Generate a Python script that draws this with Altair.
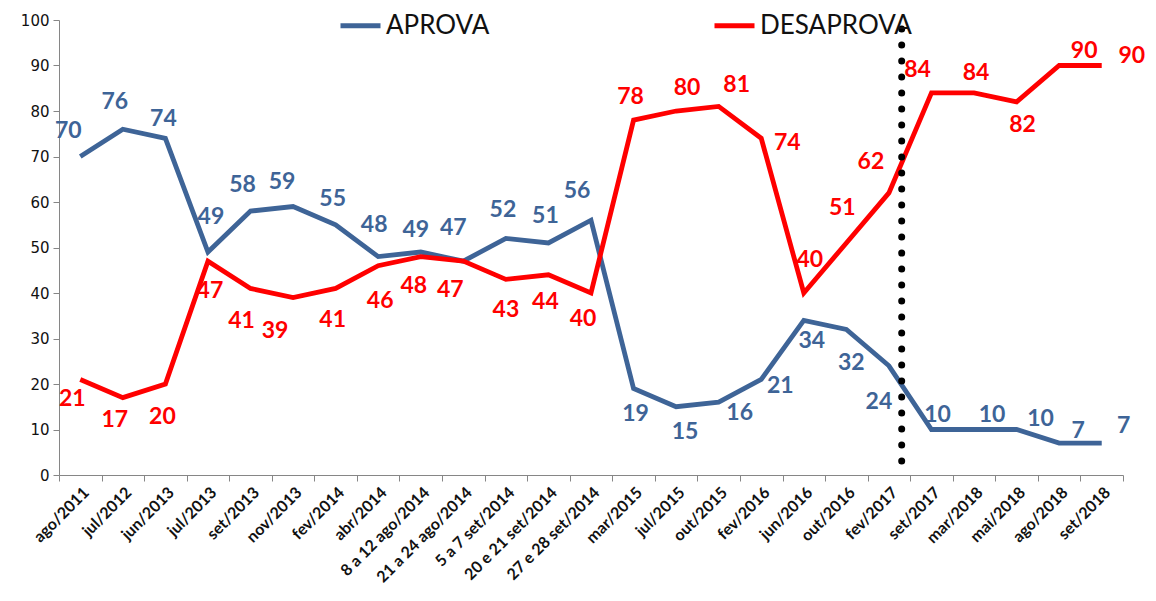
import altair as alt
import pandas as pd

periods = ["ago/2011", "jul/2012", "jun/2013", "jul/2013", "set/2013", "nov/2013",
           "fev/2014", "abr/2014", "8 a 12 ago/2014", "21 a 24 ago/2014",
           "5 a 7 set/2014", "20 e 21 set/2014", "27 e 28 set/2014", "mar/2015",
           "jul/2015", "out/2015", "fev/2016", "jun/2016", "out/2016", "fev/2017",
           "set/2017", "mar/2018", "mai/2018", "ago/2018", "set/2018"]
aprova = [70, 76, 74, 49, 58, 59, 55, 48, 49, 47, 52, 51, 56, 19, 15, 16, 21, 34, 32, 24, 10, 10, 10, 7, 7]
desaprova = [21, 17, 20, 47, 41, 39, 41, 46, 48, 47, 43, 44, 40, 78, 80, 81, 74, 40, 51, 62, 84, 84, 82, 90, 90]

# label placement (pixel offsets of each label from its point; +dy = down)
aprova_dx = [-12, -8, -2, 3, -8, -11, -3, -4, -5, -10, -3, -3, -14, 2, 9, 21, 19, 8, 5, -10, 6, 18, 24, 19, 22]
aprova_dy = [-26, -27, -19, -35, -26, -25, -26, -32, -22, -33, -28, -27, -29, 25, 25, 11, 7, 21, 34, 36, -15, -15, -11, -12, -17]
desaprova_dx = [-8, -8, -3, 2, -9, -18, -3, 2, -7, -13, 0, -3, -8, -3, 11, 18, 26, 6, -4, -18, -14, 2, 6, 25, 30]
desaprova_dy = [20, 22, 33, 30, 33, 33, 32, 35, 29, 29, 31, 27, 26, -23, -23, -21, 5, -33, -35, -31, -23, -20, 23, -15, -10]

divider_after = ["fev/2017"]
divider_top = [98]

series = ["APROVA", "DESAPROVA"]
colors = ["#3E6497", "#FF0000"]

W, H = 1064, 455
n = len(periods)
px_per_band = W / n
px_per_unit = H / 100.0

rows = []
for i, p in enumerate(periods):
    rows.append({"idx": i, "periodo": p, "serie": "APROVA", "valor": aprova[i],
                 "dx": aprova_dx[i], "dy": aprova_dy[i]})
    rows.append({"idx": i, "periodo": p, "serie": "DESAPROVA", "valor": desaprova[i],
                 "dx": desaprova_dx[i], "dy": desaprova_dy[i]})
df = pd.DataFrame(rows)
div_df = pd.DataFrame({"periodo": divider_after, "top": divider_top})

axis_gray = "#868686"

x_scale = alt.Scale(type="band", paddingInner=0, paddingOuter=0)
x_axis = alt.Axis(title=None, labelAngle=-45, labelFont="Lato", labelFontWeight="bold",
                  labelFontSize=16, labelColor="#111111", domainColor=axis_gray,
                  tickColor=axis_gray, tickSize=6, tickBand="extent", labelPadding=3)
x = alt.X("periodo:N", sort=periods, scale=x_scale, axis=x_axis)
y_scale = alt.Scale(domain=[0, 100], nice=False)
y = alt.Y("valor:Q", scale=y_scale,
          axis=alt.Axis(values=list(range(0, 101, 10)), title=None, grid=False,
                        labelFont="DejaVu Sans", labelFontSize=15, labelColor="#111111",
                        domainColor=axis_gray, tickColor=axis_gray, tickSize=6, labelPadding=4))
color_scale = alt.Scale(domain=series, range=colors)

lines = alt.Chart(df).mark_line(strokeWidth=4.8).encode(
    x=x, y=y,
    color=alt.Color("serie:N", scale=color_scale,
                    legend=alt.Legend(title=None, orient="none", legendX=279, legendY=-17,
                                      direction="horizontal", symbolType="stroke",
                                      symbolSize=1600, symbolStrokeWidth=5,
                                      labelFont="Lato", labelFontSize=26, labelColor="#111111",
                                      labelOffset=3, columnPadding=214, padding=0)),
)

divider = alt.Chart(div_df).mark_rule(color="black", strokeWidth=7, strokeDash=[0, 16],
                                      strokeCap="round").encode(
    x=alt.X("periodo:N", sort=periods, scale=x_scale, axis=x_axis, bandPosition=0.8),
    y=alt.Y("top:Q", scale=y_scale),
    y2=alt.datum(0),
)

base = alt.layer(lines, divider)

labels = alt.Chart(df).transform_calculate(
    lx=f"datum.idx + datum.dx / {px_per_band}",
    ly=f"datum.valor - datum.dy / {px_per_unit}",
).mark_text(font="Lato", fontWeight="bold", fontSize=23,
            baseline="middle", align="center").encode(
    x=alt.X("lx:Q", scale=alt.Scale(domain=[-0.5, n - 0.5], nice=False, zero=False), axis=None),
    y=alt.Y("ly:Q", scale=y_scale),
    text=alt.Text("valor:Q"),
    color=alt.Color("serie:N", scale=color_scale, legend=None),
)

chart = alt.layer(base, labels).resolve_scale(x="independent").properties(
    width=W, height=H,
    autosize=alt.AutoSizeParams(type="none"),
    padding={"left": 51, "top": 12, "right": 25, "bottom": 118},
    background="white",
).configure_view(stroke=None)

chart.save("out.html", embed_options={"renderer": "svg", "actions": False})
